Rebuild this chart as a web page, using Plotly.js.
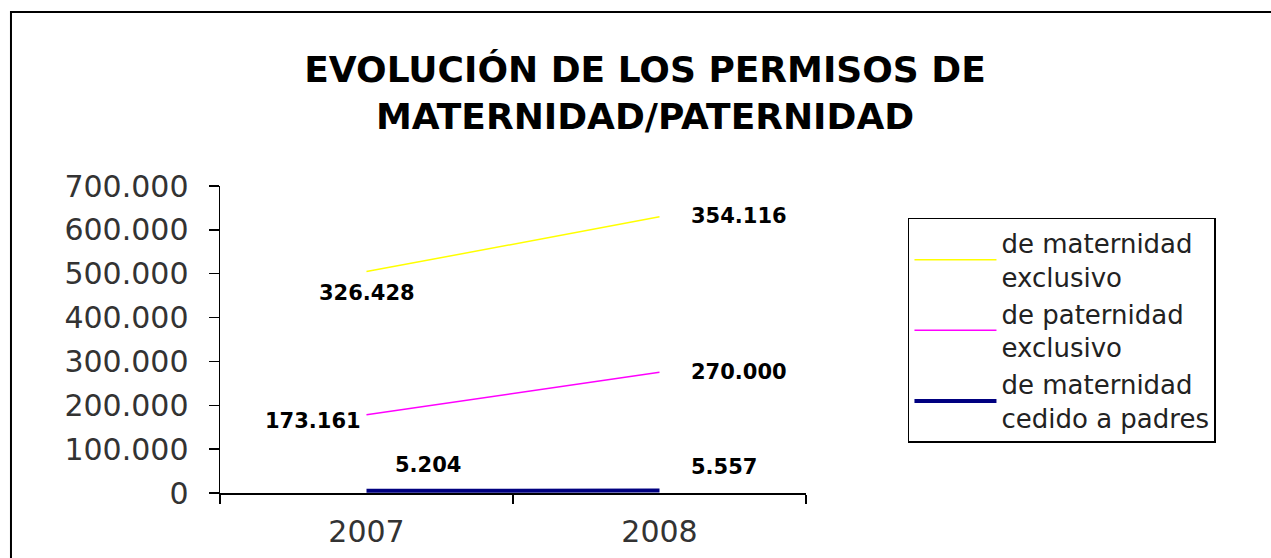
<!DOCTYPE html>
<html>
<head>
<meta charset="utf-8">
<script src="https://cdn.plot.ly/plotly-3.0.1.min.js"></script>
<style>
  html, body { margin: 0; padding: 0; background: #fff; }
  #chart { width: 1271px; height: 558px; }
</style>
</head>
<body>
<div id="chart"></div>
<script>
// chart data (stacked line chart, values as in the labels)
const years = ["2007", "2008"];
const cedido = [5204, 5557];          // de maternidad cedido a padres
const paternidad = [173161, 270000];  // de paternidad exclusivo
const maternidad = [326428, 354116];  // de maternidad exclusivo

const seriesNames = [
  "de maternidad<br>cedido a padres",
  "de paternidad<br>exclusivo",
  "de maternidad<br>exclusivo"
];
const yTicks = [0, 100000, 200000, 300000, 400000, 500000, 600000, 700000];

// stacking order: bottom to top
const series = [cedido, paternidad, maternidad];
const colors = ["#000080", "#ff00ff", "#ffff00"];
const widths = [4, 1.5, 1.5];

const traces = series.map((vals, i) => ({
  x: years,
  y: vals,
  name: seriesNames[i],
  type: "scatter",
  mode: "lines",
  stackgroup: "one",
  fill: "none",
  line: { color: colors[i], width: widths[i] },
  hoverinfo: "skip"
}));

// label offsets (px) for each series / point
const labelPlace = [
  [{ xa: "left", dx: 26, dy: 26 }, { xa: "left", dx: 29, dy: 24 }],
  [{ xa: "right", dx: -4, dy: -6 }, { xa: "left", dx: 29, dy: 0 }],
  [{ xa: "center", dx: 0, dy: -21 }, { xa: "left", dx: 29, dy: 1 }]
];

const annotations = [];
series.forEach((vals, i) => {
  vals.forEach((v, j) => {
    // stacked position of the point
    let top = 0;
    for (let k = 0; k <= i; k++) top += series[k][j];
    const p = labelPlace[i][j];
    annotations.push({
      x: j, y: top, xref: "x", yref: "y",   // category index
      text: v.toLocaleString("de-DE"),
      showarrow: false,
      xanchor: p.xa, yanchor: "middle",
      xshift: p.dx, yshift: p.dy,
      font: { family: "DejaVu Sans", size: 21, color: "#000", weight: "bold" }
    });
  });
});

const layout = {
  width: 1271,
  height: 558,
  margin: { l: 220, r: 465, t: 186, b: 65 },
  paper_bgcolor: "#fff",
  plot_bgcolor: "#fff",
  separators: ",.",
  showlegend: true,
  title: {
    text: "<b>EVOLUCIÓN DE LOS PERMISOS DE<br>MATERNIDAD/PATERNIDAD</b>",
    x: 0.5075, xref: "container", xanchor: "center",
    y: 0.853, yref: "container", yanchor: "middle",
    font: { family: "DejaVu Sans", size: 36, color: "#000" }
  },
  xaxis: {
    type: "category",
    range: [-0.5, 1.5],
    showline: true, linecolor: "#000", linewidth: 1.5,
    ticks: "outside", tickson: "boundaries", ticklen: 9, tickcolor: "#000", tickwidth: 1.5,
    showgrid: false, zeroline: false,
    ticklabelstandoff: 11,
    tickfont: { family: "DejaVu Sans", size: 30, color: "#333" }
  },
  yaxis: {
    range: [0, 700000],
    tickvals: yTicks,
    tickformat: ",d",
    showline: true, linecolor: "#000", linewidth: 1.5,
    ticks: "outside", ticklen: 10, tickcolor: "#000", tickwidth: 1.5,
    showgrid: false, zeroline: false,
    ticklabelstandoff: 14,
    tickfont: { family: "DejaVu Sans", size: 30, color: "#333" }
  },
  legend: {
    x: 1.174, y: 0.896, xanchor: "left", yanchor: "top",
    traceorder: "reversed",
    bordercolor: "#000", borderwidth: 1.5, bgcolor: "#fff",
    itemwidth: 82,
    tracegroupgap: 4,
    font: { family: "DejaVu Sans", size: 26, color: "#222" }
  },
  annotations: annotations,
  shapes: [{
    type: "rect", xref: "paper", yref: "paper",
    x0: -0.3567, x1: 2, y0: -1, y1: 1.567,
    line: { color: "#000", width: 2 }, fillcolor: "rgba(0,0,0,0)", layer: "below"
  }]
};

Plotly.newPlot("chart", traces, layout, { displayModeBar: false, staticPlot: true });
</script>
</body>
</html>
